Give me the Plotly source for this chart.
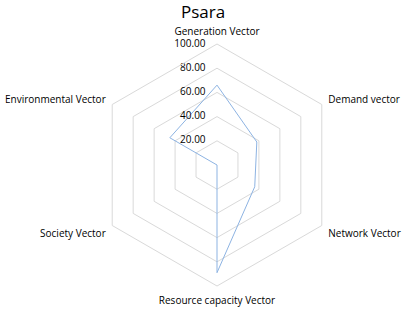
import plotly.graph_objects as go

categories = ["Generation Vector", "Demand vector", "Network Vector",
              "Resource capacity Vector", "Society Vector", "Environmental Vector"]
values = [66, 38, 36, 89, 0, 45]
radial_ticks = [0, 20, 40, 60, 80, 100]

font_family = "Open Sans, Liberation Sans, sans-serif"
pad = '<span style="color:rgba(0,0,0,0)">00</span>'

fig = go.Figure()
fig.add_trace(go.Scatterpolar(
    r=values + values[:1],
    theta=categories + categories[:1],
    mode="lines",
    line=dict(color="#8db3e2", width=1),
    showlegend=False,
    hoverinfo="skip",
))
# radial tick labels, placed by the polar scale to the left of the vertical axis
fig.add_trace(go.Scatterpolar(
    r=radial_ticks,
    theta=[categories[0]] * len(radial_ticks),
    mode="text",
    text=[f"{v:.2f}{pad}" for v in radial_ticks],
    textposition="middle left",
    textfont=dict(family=font_family, size=10, color="#000000"),
    showlegend=False,
    hoverinfo="skip",
    cliponaxis=False,
))

fig.update_layout(
    width=406, height=310,
    margin=dict(l=0, r=0, t=0, b=0),
    paper_bgcolor="white",
    plot_bgcolor="white",
    title=dict(text="Psara", x=0.5, xanchor="center", y=0.96, yanchor="middle",
               font=dict(family=font_family, size=17, color="#000000")),
    polar=dict(
        domain=dict(x=[96/406, 338/406], y=[23/310, 267/310]),
        bgcolor="white",
        gridshape="linear",
        radialaxis=dict(
            range=[0, 100],
            tickvals=radial_ticks,
            showticklabels=False,
            angle=90,
            showline=False,
            ticks="",
            gridcolor="#d9d9d9",
            gridwidth=1,
        ),
        angularaxis=dict(
            rotation=90,
            direction="clockwise",
            showgrid=False,
            showline=True,
            linecolor="#d9d9d9",
            linewidth=1,
            ticks="outside",
            ticklen=5,
            tickcolor="rgba(0,0,0,0)",
            tickfont=dict(family=font_family, size=10, color="#000000"),
        ),
    ),
)

fig.write_html("out.html", config={"displayModeBar": False},
               post_script="document.body.style.margin='0';")
